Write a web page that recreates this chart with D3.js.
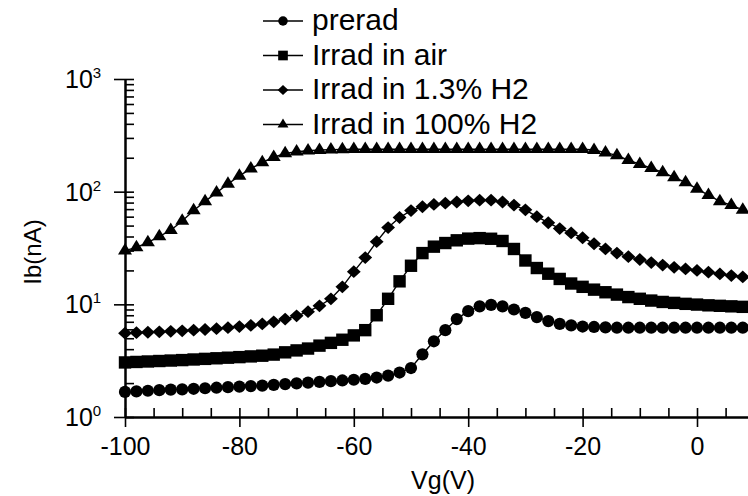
<!DOCTYPE html>
<html>
<head>
<meta charset="utf-8">
<script src="https://cdn.jsdelivr.net/npm/d3@7"></script>
<style>
  body { margin: 0; background: #fff; }
  svg { display: block; font-family: "Liberation Sans", Arial, sans-serif; }
</style>
</head>
<body>
<svg id="chart" width="748" height="496"></svg>
<script>
// gate voltage, V
const vg = [-100, -98, -96, -94, -92, -90, -88, -86, -84, -82,
  -80, -78, -76, -74, -72, -70, -68, -66, -64, -62,
  -60, -58, -56, -54, -52, -50, -48, -46, -44, -42,
  -40, -38, -36, -34, -32, -30, -28, -26, -24, -22,
  -20, -18, -16, -14, -12, -10, -8, -6, -4, -2,
  0, 2, 4, 6, 8];

// base current Ib, nA
const preradIb = [1.67, 1.69, 1.71, 1.73, 1.75, 1.76, 1.78, 1.80, 1.82, 1.84,
  1.86, 1.88, 1.90, 1.93, 1.96, 1.99, 2.02, 2.05, 2.08, 2.11,
  2.14, 2.18, 2.24, 2.33, 2.48, 2.72, 3.6, 4.7, 5.9, 7.4,
  8.7, 9.6, 9.9, 9.6, 9.0, 8.4, 7.7, 7.1, 6.7, 6.5,
  6.35, 6.3, 6.25, 6.2, 6.2, 6.2, 6.2, 6.2, 6.2, 6.2,
  6.2, 6.2, 6.2, 6.2, 6.2];
const airIb = [3.05, 3.08, 3.11, 3.14, 3.17, 3.20, 3.24, 3.28, 3.32, 3.36,
  3.40, 3.45, 3.50, 3.58, 3.75, 3.9, 4.05, 4.3, 4.55, 4.85,
  5.3, 5.9, 8.0, 11.2, 16.0, 22, 28.5, 32.5, 35, 37,
  38.3, 38.7, 38.2, 36.5, 31, 24.5, 21, 18.7, 16.8, 15.3,
  14.3, 13.5, 12.8, 12.2, 11.6, 11.2, 10.8, 10.5, 10.3, 10.1,
  9.95, 9.8, 9.7, 9.6, 9.5];
const h2LowIb = [5.55, 5.6, 5.65, 5.7, 5.76, 5.82, 5.9, 5.98, 6.08, 6.2,
  6.35, 6.5, 6.7, 7.0, 7.4, 7.9, 8.6, 9.7, 11.2, 14.3,
  19.5, 26, 36, 48, 59, 68, 73.5, 77, 79, 81,
  83, 84, 84, 81, 76, 69, 60, 53, 47, 43,
  39, 34.5, 31, 28.5, 26.5, 25, 23.5, 22.3, 21.3, 20.6,
  20, 19.3, 18.6, 18, 17.5];
const h2FullIb = [30, 32, 35.5, 40, 45.5, 55, 68, 82, 98, 117,
  138, 160, 182, 202, 218, 226, 231, 234, 236, 237,
  238, 238, 238, 238, 238, 238, 238, 238, 238, 238,
  238, 238, 238, 238, 238, 238, 238, 238, 238, 238,
  238, 234, 222, 210, 190, 175, 162, 148, 134, 121,
  106, 93, 82, 76, 69];

const seriesNames = ["prerad", "Irrad in air", "Irrad in 1.3% H2", "Irrad in 100% H2"];
const seriesShapes = ["circle", "square", "diamond", "triangle"];

const xMajorTicks = [-100, -80, -60, -40, -20, 0];
const xMinorTicks = [-95, -90, -85, -75, -70, -65, -55, -50, -45, -35, -30, -25, -15, -10, -5, 5];
const yMajorTicks = [1, 10, 100, 1000];
const yTickExponents = ["0", "1", "2", "3"];

const series = [preradIb, airIb, h2LowIb, h2FullIb].map((vals, i) => ({
  name: seriesNames[i],
  shape: seriesShapes[i],
  points: vals.map((v, j) => ({ x: vg[j], y: v }))
}));

const svg = d3.select("#chart");

const x = d3.scaleLinear().domain([-100, 10]).range([125, 754.2]);
const y = d3.scaleLog().domain([1, 1000]).range([417, 79]);

// marker path, centred on 0,0
function markerPath(shape, big) {
  const k = big ? 1 : 0.78;
  if (shape === "circle") return d3.symbol(d3.symbolCircle, Math.PI * Math.pow(6.1 * k, 2))();
  if (shape === "square") return d3.symbol(d3.symbolSquare, Math.pow(12.4 * k, 2))();
  if (shape === "diamond") {
    const w = 6.9 * k, h = 6.4 * k;
    return `M0,${-h}L${w},0L0,${h}L${-w},0Z`;
  }
  const w = 7 * k, h = 11.5 * k;
  return `M0,${-h * 2 / 3}L${w},${h / 3}L${-w},${h / 3}Z`;
}

// axes
const axisStyle = g => {
  g.selectAll("path, line").attr("stroke", "#000");
  g.select(".domain").attr("stroke-width", 2);
  g.selectAll(".tick line").attr("stroke-width", 1.6);
};

// x axis: major ticks cross the axis, minor ticks point inward
svg.append("g")
  .attr("transform", "translate(0,417)")
  .call(d3.axisBottom(x).tickValues(xMajorTicks).tickSize(10).tickSizeOuter(0).tickFormat(d => d))
  .call(axisStyle)
  .call(g => g.selectAll("text")
    .attr("fill", "#000").attr("font-size", 25).attr("y", 0).attr("dy", 38)
    .attr("font-family", "Liberation Sans, Arial, sans-serif"));
svg.append("g")
  .attr("transform", "translate(0,417)")
  .call(d3.axisBottom(x).tickValues(xMajorTicks.concat(xMinorTicks)).tickSize(-9).tickSizeOuter(0).tickFormat(""))
  .call(axisStyle);

// y axis
const yMinorTicks = y.ticks().filter(v => !yMajorTicks.includes(v));
svg.append("g")
  .attr("transform", "translate(125,0)")
  .call(d3.axisLeft(y).tickValues(yMajorTicks).tickSize(11).tickSizeOuter(0).tickFormat(""))
  .call(axisStyle);
svg.append("g")
  .attr("transform", "translate(125,0)")
  .call(d3.axisLeft(y).tickValues(yMajorTicks.concat(yMinorTicks)).tickSize(-9).tickSizeOuter(0).tickFormat(""))
  .call(axisStyle);

const yLabels = svg.append("g").selectAll("text")
  .data(yMajorTicks)
  .join("text")
  .attr("x", 65)
  .attr("y", d => y(d) + 9)
  .attr("font-size", 25)
  .attr("fill", "#000")
  .text("10");
yLabels.append("tspan")
  .attr("font-size", 15)
  .attr("dy", -10)
  .text((d, i) => yTickExponents[i]);

// axis titles
svg.append("text")
  .attr("x", 443).attr("y", 489)
  .attr("text-anchor", "middle")
  .attr("font-size", 25)
  .text("Vg(V)");
svg.append("text")
  .attr("transform", "translate(41,252) rotate(-90)")
  .attr("text-anchor", "middle")
  .attr("font-size", 24)
  .text("Ib(nA)");

// series
const line = d3.line().x(d => x(d.x)).y(d => y(d.y));
const plot = svg.append("g");
series.forEach(s => {
  plot.append("path")
    .datum(s.points)
    .attr("fill", "none")
    .attr("stroke", "#000")
    .attr("stroke-width", 1.4)
    .attr("d", line);
  plot.append("g").selectAll("path")
    .data(s.points)
    .join("path")
    .attr("transform", d => `translate(${x(d.x)},${y(d.y)})`)
    .attr("d", markerPath(s.shape, true))
    .attr("fill", "#000");
});

// legend
const legend = svg.append("g").attr("transform", "translate(263,21)");
const rows = legend.selectAll("g")
  .data(series)
  .join("g")
  .attr("transform", (d, i) => `translate(0,${i * 34.5})`);
rows.append("line")
  .attr("x1", 0).attr("x2", 40)
  .attr("stroke", "#000").attr("stroke-width", 1.6);
rows.append("path")
  .attr("transform", "translate(20,0)")
  .attr("d", d => markerPath(d.shape, false))
  .attr("fill", "#000");
rows.append("text")
  .attr("x", 49).attr("y", 9)
  .attr("font-size", 30)
  .attr("fill", "#000")
  .text(d => d.name);
</script>
</body>
</html>
